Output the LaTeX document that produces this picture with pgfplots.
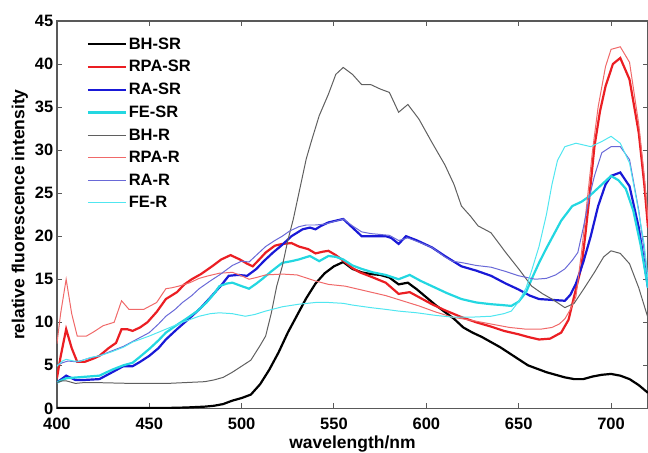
\documentclass[border=0pt]{standalone}
\usepackage{fontspec}
\setmainfont{Liberation Sans}
\usepackage{pgfplots}
\pgfplotsset{compat=1.18}

\definecolor{cBH}{RGB}{0,0,0}
\definecolor{cRPA}{RGB}{235,30,35}
\definecolor{cRA}{RGB}{25,25,215}
\definecolor{cFE}{RGB}{35,215,225}
\definecolor{cBHR}{RGB}{95,95,95}
\definecolor{cRPAR}{RGB}{240,105,105}
\definecolor{cRAR}{RGB}{105,105,215}
\definecolor{cFER}{RGB}{80,230,240}

\begin{document}
\begin{tikzpicture}
\path[use as bounding box] (-57pt,-44pt) rectangle (592pt,409pt);
\begin{axis}[
  at={(0pt,0pt)}, anchor=south west,
  scale only axis, width=592pt, height=388pt,
  xmin=400, xmax=720, ymin=0, ymax=45,
  xtick={400,450,...,700}, ytick={0,5,...,45},
  xtick pos=both, ytick pos=both,
  xticklabel pos=lower, yticklabel pos=left,
  tick align=inside, major tick length=5pt,
  axis line style={draw=black!65, line width=1.2pt},
  tick style={black!65, line width=1pt},
  /pgf/number format/assume math mode=true,
  ticklabel style={font=\fontsize{16.5}{16.5}\selectfont\bfseries, inner sep=0.5pt},
  xticklabel style={yshift=-9pt},
  yticklabel style={xshift=-3pt},
  xlabel={wavelength/nm}, ylabel={relative fluorescence intensity},
  label style={font=\fontsize{17.5}{18}\selectfont\bfseries},
  xlabel style={at={(axis description cs:0.5,-0.091)}, anchor=center},
  ylabel style={at={(axis description cs:-0.0625,0.5)}, anchor=center},
  legend style={at={(axis description cs:0.045,0.968)}, anchor=north west,
    draw=none, fill=none, font=\fontsize{16.5}{17}\selectfont\bfseries,
    row sep=5.8pt, nodes={inner sep=2pt}},
  legend cell align=left,
  legend image code/.code={\draw[#1] (0pt,0pt) -- (38pt,0pt);},
]
% BH-SR
\addplot[cBH, line width=2.2pt] coordinates {
(400,0.05) (420,0.05) (440,0.05) (460,0.05) (470,0.1) (480,0.2) (485,0.3) (490,0.5) (495,0.9) (500,1.2) (505,1.6) (510,2.8) (515,4.5) (520,6.5) (525,8.8) (530,10.8) (535,12.8) (540,14.5) (545,15.7) (550,16.5) (555,17.0) (560,16.2) (565,15.8) (570,15.6) (575,15.5) (580,15.2) (585,14.4) (590,14.6) (595,13.8) (600,12.9) (605,12.0) (610,11.2) (615,10.4) (620,9.4) (625,8.8) (630,8.3) (635,7.7) (640,7.1) (645,6.4) (650,5.7) (655,5.0) (660,4.6) (665,4.2) (670,3.9) (675,3.6) (680,3.4) (685,3.4) (690,3.7) (695,3.9) (700,4.0) (705,3.8) (710,3.4) (715,2.7) (720,1.8)};
\addlegendentry{BH-SR}
% RPA-SR
\addplot[cRPA, line width=2.2pt] coordinates {
(400,3.5) (402,6) (405,9.2) (408,7.0) (411,5.4) (415,5.4) (420,5.8) (423,6.1) (428,7.0) (432,7.6) (435,9.2) (438,9.2) (441,9.0) (445,9.4) (449,10.0) (454,11.2) (459,12.7) (465,13.5) (469,14.4) (473,15.0) (478,15.6) (484,16.5) (489,17.3) (494,17.8) (499,17.3) (503,16.8) (506,16.5) (510,17.4) (513,18.1) (518,18.9) (522,19.1) (527,19.2) (531,18.8) (536,18.5) (540,18.0) (544,18.2) (547,18.3) (551,17.8) (556,17.0) (560,16.3) (564,15.8) (570,15.3) (578,14.6) (585,13.3) (591,13.5) (597,12.8) (603,12.1) (610,11.4) (619,10.6) (627,10.0) (635,9.5) (642,9.0) (650,8.6) (655,8.3) (661,8.0) (667,8.1) (673,8.8) (677,10.3) (680,13) (684,16.5) (686,20) (688,24) (691,30.4) (694,34.5) (697,37.4) (701,40) (705,40.7) (710,38.2) (715,32) (718,26) (720,21)};
\addlegendentry{RPA-SR}
% RA-SR
\addplot[cRA, line width=2.2pt] coordinates {
(400,3.0) (405,3.8) (410,3.3) (415,3.3) (423,3.4) (430,4.2) (436,4.9) (441,4.9) (445,5.4) (450,6.1) (455,7.0) (459,8.0) (465,9.2) (473,10.7) (478,11.7) (484,13.1) (489,14.3) (493,15.4) (498,15.5) (503,15.4) (508,16.2) (512,17.1) (517,18.1) (522,19.0) (527,20.0) (533,20.8) (537,21.0) (540,20.8) (543,21.2) (547,21.6) (551,21.8) (555,22.0) (560,21.0) (565,20.0) (570,20.0) (578,20.0) (581,19.8) (585,19.1) (589,20.0) (595,19.5) (603,18.7) (610,17.7) (619,16.5) (627,16.0) (635,15.4) (643,14.5) (650,13.8) (656,13.1) (661,12.7) (668,12.6) (675,12.5) (678,13.2) (681,14.5) (685,17) (689,20.0) (693,23.5) (697,26) (700,27.0) (705,27.4) (710,25.8) (715,21) (720,14)};
\addlegendentry{RA-SR}
% FE-SR
\addplot[cFE, line width=2.2pt] coordinates {
(400,3.0) (405,3.5) (411,3.6) (417,3.7) (423,3.8) (430,4.5) (436,5.0) (441,5.3) (445,6.0) (450,6.9) (455,7.9) (459,8.8) (465,9.7) (470,10.4) (476,11.3) (481,12.3) (485,13.3) (488,14.2) (492,14.5) (495,14.6) (500,14.2) (504,13.9) (508,14.5) (511,15.0) (516,15.9) (522,16.9) (527,17.1) (531,17.3) (537,17.7) (542,17.1) (547,17.7) (551,17.6) (555,17.3) (560,16.6) (565,16.2) (571,15.8) (578,15.5) (585,15.0) (591,15.5) (597,14.8) (603,14.2) (611,13.4) (619,12.7) (627,12.3) (635,12.1) (641,12.0) (646,11.9) (650,12.4) (654,13.5) (658,15.5) (661,16.9) (665,18.6) (668,19.8) (673,21.8) (679,23.5) (684,24.0) (688,24.6) (694,25.8) (700,27.0) (704,26.5) (708,25.5) (712,23) (716,19) (720,14)};
\addlegendentry{FE-SR}
% BH-R
\addplot[cBHR, line width=1pt] coordinates {
(400,3.0) (403,3.2) (405,3.2) (410,2.9) (415,3.0) (420,3.0) (440,2.9) (460,2.9) (470,3.0) (480,3.1) (485,3.3) (490,3.6) (495,4.2) (500,4.9) (505,5.6) (510,7.3) (513,8.4) (516,11) (519,14.2) (522,16.5) (525,19.5) (528,22) (531,25) (535,29) (538,31.2) (542,34) (547,36.5) (551,38.8) (555,39.6) (560,38.8) (565,37.6) (570,37.6) (575,37.1) (580,36.7) (585,34.4) (590,35.3) (596,33.6) (603,30.9) (610,28.3) (615,26) (619,23.5) (624,22.3) (628,21.2) (635,20.4) (643,18.1) (650,16.2) (657,14.2) (663,13.3) (668,12.7) (675,11.7) (680,12.2) (685,13.8) (691,15.8) (696,17.6) (700,18.3) (705,18) (710,16.8) (715,14) (720,10.5)};
\addlegendentry{BH-R}
% RPA-R
\addplot[cRPAR, line width=1pt] coordinates {
(400,7.5) (402,11) (405,15.0) (408,11) (411,8.4) (416,8.4) (420,8.9) (425,9.6) (431,10.0) (435,12.5) (439,11.5) (443,11.5) (447,11.5) (454,12.3) (459,13.9) (462,14.0) (466,14.2) (472,14.6) (477,15.1) (482,15.4) (488,15.7) (495,15.8) (500,15.4) (504,15.0) (508,15.2) (513,15.5) (522,15.6) (530,15.5) (540,14.8) (547,14.4) (556,14.2) (566,13.7) (578,13.1) (587,12.5) (596,11.9) (605,11.2) (614,10.6) (625,10.2) (635,9.8) (645,9.4) (654,9.2) (662,9.2) (668,9.4) (672,9.8) (675,10.4) (678,11.5) (681,13.0) (684,18.1) (687,24) (690,30) (693,35) (697,39.7) (700,41.7) (705,42.0) (710,40.2) (715,33) (718,27) (720,22)};
\addlegendentry{RPA-R}
% RA-R
\addplot[cRAR, line width=1pt] coordinates {
(400,5.0) (403,5.3) (406,5.5) (411,5.4) (417,5.8) (423,6.1) (430,6.7) (436,7.2) (443,8.0) (450,8.8) (455,9.8) (459,10.7) (464,11.5) (468,12.3) (473,13.1) (477,13.9) (483,14.8) (488,15.5) (495,16.6) (500,17.1) (504,17.0) (508,17.8) (513,18.8) (518,19.5) (522,20.0) (526,20.6) (531,21.1) (535,21.3) (540,21.3) (545,21.4) (550,21.7) (555,22.0) (560,21.2) (565,20.5) (570,20.3) (580,20.1) (585,19.5) (590,19.8) (596,19.3) (603,18.7) (610,17.6) (614,17.1) (620,16.9) (627,16.6) (635,16.4) (643,15.9) (650,15.4) (659,15.0) (665,15.1) (670,15.5) (675,16.2) (679,17.2) (682,18.1) (685,21) (688,24.3) (691,27) (695,29.7) (700,30.4) (705,30.4) (710,28.9) (715,23) (720,15)};
\addlegendentry{RA-R}
% FE-R
\addplot[cFER, line width=1pt] coordinates {
(400,4.9) (403,5.5) (405,5.7) (409,5.5) (413,5.5) (418,5.9) (423,6.1) (430,6.6) (436,7.1) (441,7.7) (450,8.4) (459,9.2) (468,10.0) (477,10.7) (483,11.0) (488,11.1) (495,11.0) (502,10.7) (507,10.9) (513,11.3) (522,11.8) (531,12.1) (540,12.3) (547,12.3) (555,12.2) (560,12.0) (570,11.7) (578,11.5) (585,11.3) (595,11.1) (605,10.8) (614,10.6) (625,10.6) (635,10.7) (642,11.0) (646,11.3) (650,12.4) (654,14.0) (657,16.0) (661,18.8) (665,22.5) (668,26) (671,28.8) (675,30.4) (681,30.8) (689,30.4) (695,31.0) (700,31.6) (705,30.8) (710,28.5) (714,24) (718,19) (720,15)};
\addlegendentry{FE-R}
\end{axis}
\end{tikzpicture}
\end{document}
